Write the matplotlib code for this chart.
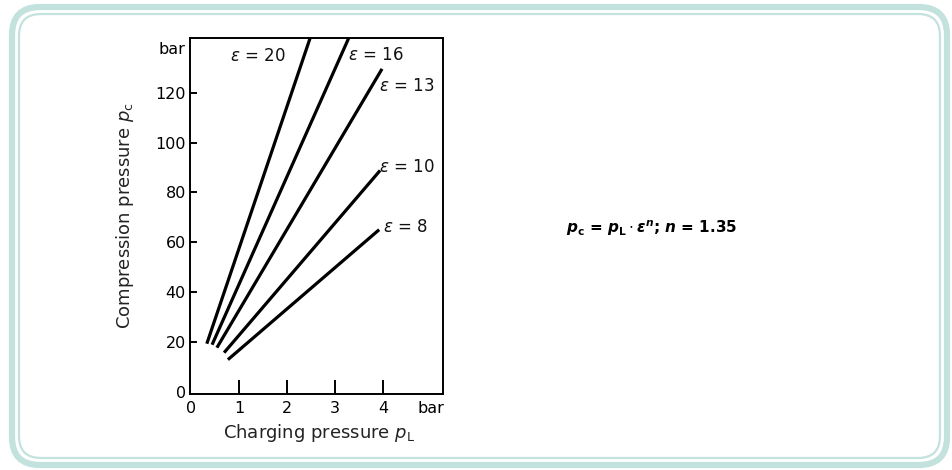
import matplotlib.pyplot as plt
from matplotlib.patches import FancyBboxPatch

plt.rcParams['font.family'] = ['DejaVu Sans']
plt.rcParams['mathtext.fontset'] = 'dejavusans'

# compression ratios and line end points
eps = [20, 16, 13, 10, 8]
pL_start = [0.33, 0.44, 0.54, 0.69, 0.77]
pc_start = [19.2, 18.8, 17.6, 15.6, 12.8]
pL_end = [2.50, 3.31, 3.98, 3.94, 3.92]
pc_end = [143.0, 143.0, 129.6, 88.8, 65.0]

# where the epsilon labels sit (left edge, middle)
lab_x = [0.82, 3.27, 3.92, 3.92, 4.0]
lab_y = [134.8, 135.0, 122.8, 90.0, 66.0]

xticks = [0, 1, 2, 3, 4, 5.0]
xlabels = ['0', '1', '2', '3', '4', 'bar']
yticks = [0, 20, 40, 60, 80, 100, 120, 138]
ylabels = ['0', '20', '40', '60', '80', '100', '120', 'bar']

W, H = 953, 470
fig = plt.figure(figsize=(W / 100, H / 100), dpi=100)

# rounded teal frame around the picture
bg = fig.add_axes([0, 0, 1, 1])
bg.set_xlim(0, W)
bg.set_ylim(H, 0)
bg.axis('off')
teal = '#c3e2de'
bg.add_patch(FancyBboxPatch((12, 7), 935, 458, boxstyle='round,pad=0,rounding_size=28',
                            fill=False, ec=teal, lw=4.5))
bg.add_patch(FancyBboxPatch((19, 14), 921, 444, boxstyle='round,pad=0,rounding_size=22',
                            fill=False, ec=teal, lw=1.6))

ax = fig.add_axes([190 / W, 1 - 394 / H, 253 / W, 356 / H])
ax.set_xlim(-0.02, 5.25)
ax.set_ylim(-1, 142)

for i in range(len(eps)):
    ax.plot([pL_start[i], pL_end[i]], [pc_start[i], pc_end[i]],
            color='black', lw=2.3, solid_capstyle='butt')
    ax.text(lab_x[i], lab_y[i], r'$\varepsilon$ = ' + str(eps[i]),
            fontsize=12, ha='left', va='center', color='#111111')

for s in ax.spines.values():
    s.set_linewidth(1.4)

ax.set_xticks(xticks)
ax.set_xticklabels(xlabels)
ax.set_yticks(yticks)
ax.set_yticklabels(ylabels)
ax.tick_params(axis='x', direction='in', length=10, width=1.4, pad=5, labelsize=11.5)
ax.tick_params(axis='y', direction='in', length=5, width=1.4, pad=3, labelsize=11.5)
ax.xaxis.get_major_ticks()[-1].tick1line.set_visible(False)
ax.xaxis.get_major_ticks()[0].tick1line.set_visible(False)
ax.yaxis.get_major_ticks()[-1].tick1line.set_visible(False)
ax.yaxis.get_major_ticks()[0].tick1line.set_visible(False)

ax.text(0.51, -0.11, r'Charging pressure $p_\mathrm{L}$', transform=ax.transAxes,
        ha='center', va='center', fontsize=13, color='#222222')
ax.text(-0.257, 0.50, r'Compression pressure $p_\mathrm{c}$', transform=ax.transAxes,
        ha='center', va='center', rotation=90, fontsize=13, color='#222222')

fig.text(652 / W, 1 - 228 / H,
         r'$\mathbfit{p}_\mathbf{c}$ = $\mathbfit{p}_\mathbf{L} \cdot \mathbfit{\varepsilon}^\mathbfit{n}$; $\mathbfit{n}$ = 1.35',
         ha='center', va='center', fontsize=11, fontweight='bold')

fig.savefig('out.png', dpi=100, facecolor='white')
